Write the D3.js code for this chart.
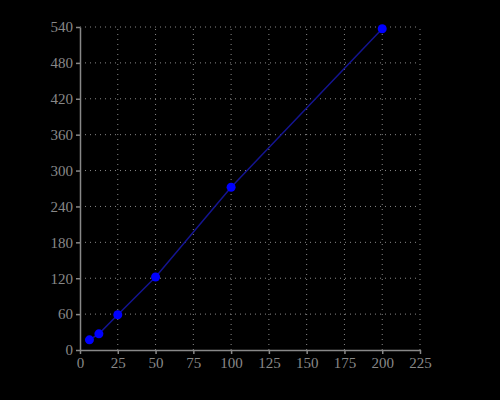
<!DOCTYPE html>
<html><head><meta charset="utf-8">
<script src="https://cdn.jsdelivr.net/npm/d3@7"></script>
<style>body{margin:0;background:#000}</style>
</head><body>
<svg id="chart" width="500" height="400"></svg>
<script>
// concentrations and measured signal
let xValues = [6.25, 12.5, 25, 50, 100, 200];
let yValues = [17, 27, 59, 122, 272, 537];
let xTicks = [0, 25, 50, 75, 100, 125, 150, 175, 200, 225];
let yTicks = [0, 60, 120, 180, 240, 300, 360, 420, 480, 540];

let svg = d3.select("#chart");
svg.append("rect").attr("width", 500).attr("height", 400).attr("fill", "#000");

let x = d3.scaleLinear().domain([0, 225]).range([80, 420]);
let y = d3.scaleLinear().domain([0, 540]).range([350, 27]);

// dotted grid
svg.append("g").selectAll("line").data(xTicks.slice(1)).join("line")
  .attr("x1", d => x(d)).attr("x2", d => x(d)).attr("y1", 350).attr("y2", 27)
  .attr("stroke", "#888").attr("stroke-dasharray", "1,4");
svg.append("g").selectAll("line").data(yTicks.slice(1)).join("line")
  .attr("x1", 80).attr("x2", 420).attr("y1", d => y(d)).attr("y2", d => y(d))
  .attr("stroke", "#888").attr("stroke-dasharray", "1,4");

let xAxis = svg.append("g").attr("transform", "translate(0,350)")
  .call(d3.axisBottom(x).tickValues(xTicks).tickSize(4).tickSizeOuter(0));
let yAxis = svg.append("g").attr("transform", "translate(80,0)")
  .call(d3.axisLeft(y).tickValues(yTicks).tickSize(4).tickSizeOuter(0));
[xAxis, yAxis].forEach(a => {
  a.selectAll("path,line").attr("stroke", "#888").attr("stroke-width", 1.5);
  a.selectAll("text").attr("fill", "#888").attr("font-family", "Liberation Serif").attr("font-size", 15);
});

let pts = xValues.map((v, i) => [v, yValues[i]]);
svg.append("path").datum(pts)
  .attr("d", d3.line().x(d => x(d[0])).y(d => y(d[1])))
  .attr("fill", "none").attr("stroke", "#141490").attr("stroke-width", 1.5);
svg.append("g").selectAll("circle").data(pts).join("circle")
  .attr("cx", d => x(d[0])).attr("cy", d => y(d[1])).attr("r", 4.5).attr("fill", "#0000ff");
</script>
</body></html>
